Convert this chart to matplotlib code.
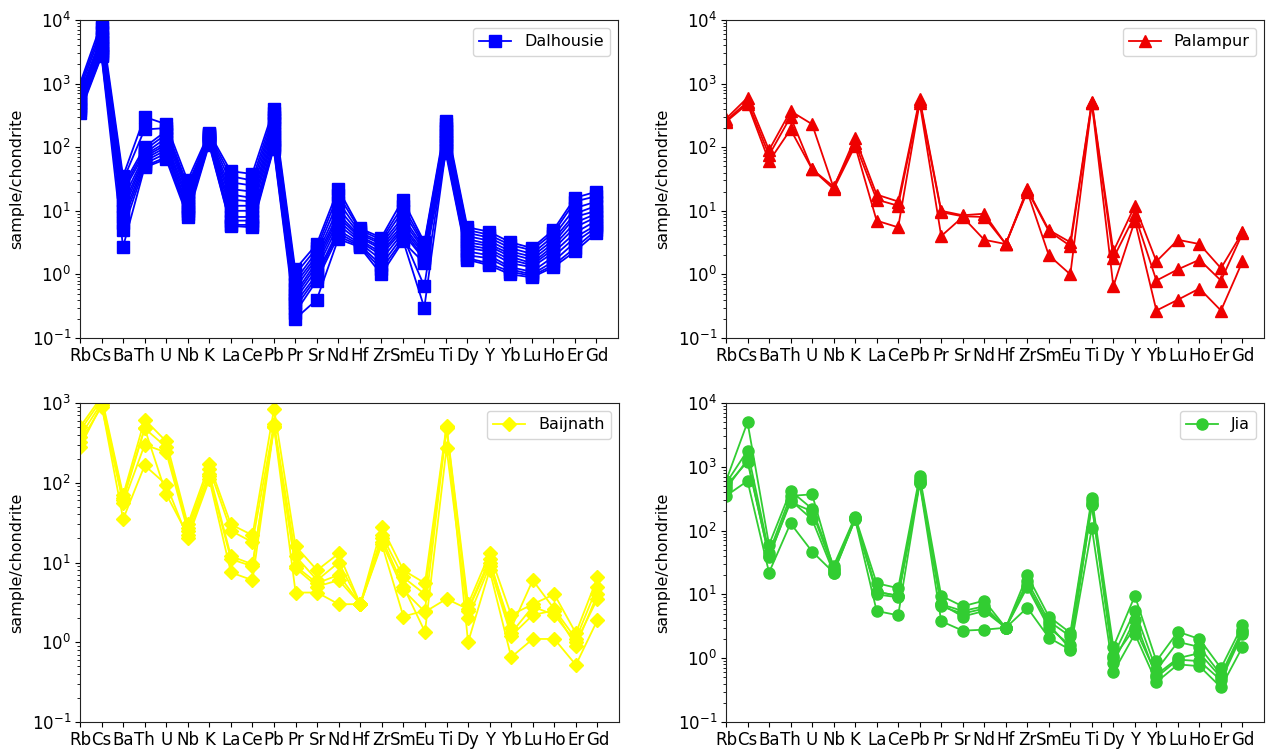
import matplotlib
matplotlib.use("Agg")
import matplotlib.pyplot as plt

elements = ["Rb", "Cs", "Ba", "Th", "U", "Nb", "K", "La", "Ce", "Pb", "Pr", "Sr", "Nd",
            "Hf", "Zr", "Sm", "Eu", "Ti", "Dy", "Y", "Yb", "Lu", "Ho", "Er", "Gd"]

# Dalhousie samples (sample/chondrite)
dal_1 = [1000, 9000, 35, 300, 230, 30, 170, 42, 38, 400, 1.2, 3.0, 22, 5.3, 3.8, 15, 3.2, 260, 5.5, 4.7, 3.2, 2.6, 5.0, 16, 20]
dal_2 = [900, 7500, 30, 190, 200, 25, 160, 35, 30, 350, 1.0, 2.6, 18, 5.0, 3.5, 12, 3.0, 230, 5.0, 4.2, 2.9, 2.4, 4.5, 14, 17]
dal_3 = [800, 6500, 25, 100, 180, 22, 155, 28, 25, 300, 0.8, 2.3, 14, 4.6, 3.2, 10, 2.8, 200, 4.5, 3.8, 2.6, 2.1, 4.0, 11, 14]
dal_4 = [700, 5500, 22, 90, 160, 20, 150, 22, 20, 270, 0.7, 2.0, 11, 4.3, 3.0, 8, 2.6, 180, 4.0, 3.4, 2.3, 1.9, 3.5, 9, 12]
dal_5 = [650, 5000, 20, 80, 140, 18, 145, 18, 16, 240, 0.6, 1.8, 9, 4.0, 2.7, 7, 2.4, 160, 3.6, 3.0, 2.1, 1.7, 3.1, 8, 10]
dal_6 = [600, 4500, 15, 75, 120, 16, 140, 15, 14, 200, 0.5, 1.6, 8, 3.8, 2.5, 6, 2.2, 150, 3.2, 2.8, 1.9, 1.5, 2.8, 6.5, 9]
dal_7 = [550, 4000, 12, 70, 110, 14, 135, 12, 12, 170, 0.45, 1.4, 7, 3.5, 2.2, 5.5, 2.0, 130, 2.9, 2.5, 1.7, 1.4, 2.5, 5.5, 8]
dal_8 = [500, 3600, 10, 65, 100, 12, 130, 10, 10, 150, 0.4, 1.2, 6, 3.3, 2.0, 5, 1.8, 120, 2.6, 2.3, 1.5, 1.3, 2.2, 4.5, 7]
dal_9 = [450, 3300, 8, 60, 90, 11, 125, 8, 8, 130, 0.35, 1.0, 5, 3.1, 1.7, 4.5, 1.7, 110, 2.3, 2.0, 1.3, 1.1, 1.9, 3.8, 6]
dal_10 = [420, 3000, 6.5, 55, 80, 10, 120, 7, 7, 110, 0.3, 0.9, 4.5, 2.9, 1.4, 4, 0.65, 100, 2.0, 1.8, 1.2, 1.0, 1.6, 3.2, 5.5]
dal_11 = [380, 2800, 5, 50, 70, 9, 115, 6, 6, 100, 0.25, 0.8, 4, 2.8, 1.2, 3.5, 0.3, 90, 1.8, 1.5, 1.1, 0.95, 1.4, 2.6, 5]
dal_12 = [350, 2700, 2.7, 48, 65, 8, 110, 5.8, 5.5, 95, 0.2, 0.4, 3.6, 2.7, 1.0, 3.3, 1.5, 80, 1.7, 1.4, 1.0, 0.9, 1.3, 2.3, 4.5]

# Palampur samples
pal_1 = [280, 600, 90, 370, 230, 23, 140, 18, 14, 580, 10, 8.5, 9, 3, 22, 5, 3.2, 520, 2.3, 12, 1.6, 3.5, 3.0, 1.25, 4.6]
pal_2 = [260, 520, 75, 300, 45, 24, 115, 15, 12, 530, 9.5, 8.2, 8, 3, 21, 4.8, 2.8, 500, 1.8, 8.5, 0.8, 1.2, 1.7, 0.8, 4.4]
pal_3 = [250, 480, 60, 190, 45, 22, 105, 7, 5.5, 500, 4, 8, 3.5, 3, 20, 2, 1.0, 490, 0.65, 7, 0.27, 0.4, 0.6, 0.27, 1.6]

# Baijnath samples
bai_1 = [500, 1200, 70, 620, 330, 30, 170, 30, 22, 850, 16, 8, 13, 3, 28, 8, 5.5, 520, 3.0, 13, 2.2, 3.0, 4.0, 1.3, 6.5]
bai_2 = [450, 1100, 65, 480, 280, 27, 150, 25, 18, 550, 12, 6, 10, 3, 22, 6.5, 4.0, 500, 2.5, 10, 1.5, 6.0, 2.6, 1.1, 5.0]
bai_3 = [380, 1000, 55, 300, 240, 25, 130, 12, 9.5, 500, 8.5, 5, 6, 3, 20, 5, 1.35, 270, 2.0, 9, 1.2, 2.2, 2.5, 0.9, 4.0]
bai_4 = [280, 950, 35, 165, 95, 20, 110, 7.5, 6, 500, 4.2, 4.2, 3, 3, 17, 2.1, 2.5, 480, 1.0, 8, 0.65, 1.1, 1.1, 0.52, 1.9]
bai_5 = [320, 900, 60, 480, 72, 22, 120, 11, 9, 520, 9, 5.5, 7, 3, 18, 4.5, 2.4, 3.5, 2.6, 11, 1.3, 2.8, 2.2, 1.0, 3.5]

# Jia samples
jia_1 = [600, 5000, 60, 420, 220, 28, 165, 15, 12.5, 720, 9.5, 6.5, 8, 3, 20, 4.5, 2.5, 330, 1.5, 9.5, 0.9, 2.6, 2.0, 0.7, 3.3]
jia_2 = [550, 1800, 45, 350, 370, 25, 160, 11, 9.5, 650, 7, 5.5, 6.5, 3, 16, 3.8, 2.2, 290, 1.1, 5.5, 0.65, 1.8, 1.5, 0.55, 2.8]
jia_3 = [450, 1300, 38, 300, 150, 22, 150, 11, 9.5, 550, 7, 4.5, 5.5, 3, 13, 3.0, 1.6, 250, 0.85, 4, 0.5, 0.95, 0.9, 0.45, 2.4]
jia_4 = [350, 600, 22, 130, 47, 22, 150, 5.5, 4.7, 550, 3.8, 2.7, 2.8, 3, 6.2, 2.1, 1.35, 110, 0.6, 2.4, 0.42, 0.8, 0.75, 0.35, 1.5]
jia_5 = [500, 1200, 40, 280, 200, 24, 155, 10, 9, 600, 6.5, 5, 6, 3, 14, 3.4, 1.4, 260, 1.0, 3, 0.55, 1.0, 1.2, 0.5, 2.6]

groups = [
    ("Dalhousie", [dal_1, dal_2, dal_3, dal_4, dal_5, dal_6, dal_7, dal_8, dal_9, dal_10, dal_11, dal_12], "#0000ff", "s", 9, (0.1, 1e4)),
    ("Palampur", [pal_1, pal_2, pal_3], "#ee0000", "^", 9, (0.1, 1e4)),
    ("Baijnath", [bai_1, bai_2, bai_3, bai_4, bai_5], "#ffff00", "D", 7.5, (0.1, 1e3)),
    ("Jia", [jia_1, jia_2, jia_3, jia_4, jia_5], "#32cd32", "o", 8, (0.1, 1e4)),
]

plt.rcParams["font.family"] = ["DejaVu Sans"]
plt.rcParams["font.size"] = 11.5

fig = plt.figure(figsize=(12.66, 7.51), dpi=100)
W, H = 1266, 751
boxes = [(80, 20, 618, 338), (726, 20, 1264, 338), (80, 403, 619, 722), (726, 403, 1264, 722)]

x = list(range(len(elements)))
for (name, series, color, marker, ms, ylim), (l, t, r, b) in zip(groups, boxes):
    ax = fig.add_axes([l / W, 1 - b / H, (r - l) / W, (b - t) / H])
    for i, s in enumerate(series):
        ax.plot(x, s, color=color, marker=marker, markersize=ms, linewidth=1.3,
                label=name if i == 0 else None)
    ax.set_yscale("log")
    ax.set_ylim(*ylim)
    ax.set_xlim(0, 25)
    ax.set_xticks(x)
    ax.set_xticklabels(elements)
    ax.tick_params(axis="both", which="major", labelsize=12, pad=3)
    ax.set_ylabel("sample/chondrite", fontsize=11.5, labelpad=5)
    ax.legend(loc="upper right", fontsize=11.5)
    for sp in ax.spines.values():
        sp.set_color("#222222")

fig.savefig("out.png", dpi=100)
